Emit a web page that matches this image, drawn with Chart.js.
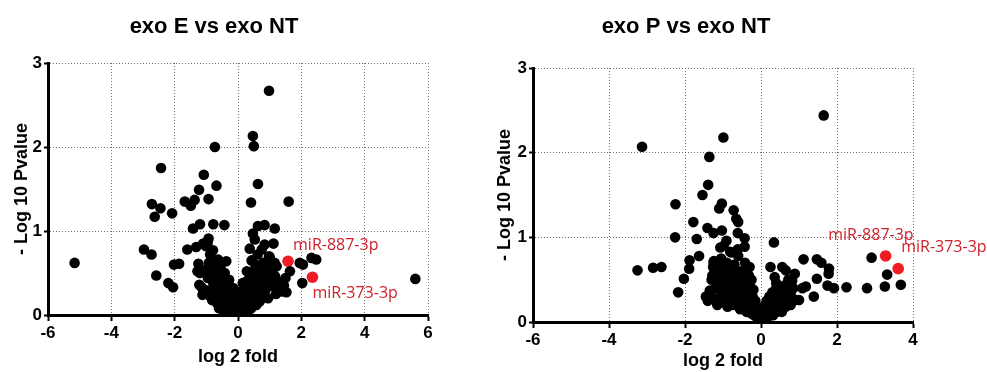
<!DOCTYPE html>
<html>
<head>
<meta charset="utf-8">
<script src="https://cdn.jsdelivr.net/npm/chart.js@4"></script>
<style>
  html, body { margin: 0; padding: 0; background: #fff; }
  .box { position: absolute; top: 0; height: 372px; }
  #boxE { left: 0; width: 476px; }
  #boxP { left: 459px; width: 528px; }
</style>
</head>
<body>
<div class="box" id="boxE"><canvas id="chartE" width="476" height="372"></canvas></div>
<div class="box" id="boxP"><canvas id="chartP" width="528" height="372"></canvas></div>
<script>
// exo E vs exo NT : [log2 fold, -log10 p]
const ePoints = [
  [0.98, 2.67], [0.47, 2.13], [0.5, 2.01], [-0.73, 2.0], [-2.43, 1.75], [-1.08, 1.67], [-0.68, 1.54], [0.63, 1.56],
  [-1.23, 1.49], [-0.93, 1.38], [-1.68, 1.35], [-1.49, 1.30], [-1.37, 1.37], [-2.72, 1.32], [-2.45, 1.27], [-2.63, 1.17],
  [-2.08, 1.21], [0.41, 1.34], [1.6, 1.35], [-1.42, 1.03], [-1.2, 1.08], [-0.78, 1.08], [-0.43, 1.07], [0.63, 1.06],
  [0.84, 1.07], [1.16, 1.03], [0.47, 0.97], [0.53, 0.9], [-0.93, 0.91], [-1.1, 0.85], [-1.32, 0.81], [-1.6, 0.78],
  [-0.79, 0.77], [-2.97, 0.78], [-2.73, 0.72], [-5.16, 0.62], [-2.02, 0.6], [-1.86, 0.61], [-2.58, 0.47], [-2.2, 0.38],
  [-2.05, 0.33], [5.6, 0.43], [1.95, 0.62], [2.32, 0.68], [2.47, 0.66], [2.05, 0.6], [2.03, 0.38], [1.64, 0.52],
  [1.5, 0.44], [1.32, 0.3], [1.53, 0.27],
  [-1.25, 0.61], [-1.2, 0.5], [-1.28, 0.52], [-1.15, 0.33], [-1.12, 0.24], [-1.22, 0.36], [-1.05, 0.3],
  [-1.0, 0.54], [-0.95, 0.44], [-0.89, 0.23], [-0.83, 0.42], [-0.85, 0.3], [-0.92, 0.62], [-0.8, 0.55], [-0.88, 0.72],
  [-1.02, 0.82], [-0.96, 0.86], [-0.75, 0.25], [-0.7, 0.35], [-0.72, 0.5], [-0.68, 0.15], [-0.63, 0.66], [-0.65, 0.45],
  [-0.6, 0.28], [-0.62, 0.18], [-0.7, 0.6], [-0.55, 0.58], [-0.5, 0.4], [-0.52, 0.22], [-0.45, 0.32], [-0.48, 0.12],
  [-0.42, 0.5], [-0.37, 0.64], [-0.4, 0.2], [-0.55, 0.1], [-0.46, 0.05], [-0.35, 0.35], [-0.3, 0.25], [-0.32, 0.1],
  [-0.28, 0.42], [-0.25, 0.15], [-0.22, 0.3], [-0.2, 0.05], [-0.35, 0.05], [-0.3, 0.18], [-0.18, 0.2], [-0.15, 0.1],
  [-0.12, 0.03], [-0.1, 0.15], [-0.08, 0.07], [-0.05, 0.02], [-0.03, 0.1], [-0.15, 0.32], [-0.1, 0.25],
  [-0.6, 0.08], [-0.42, 0.28], [-0.25, 0.08], [-0.15, 0.05], [-0.05, 0.2], [-0.78, 0.38], [-0.58, 0.38], [-0.82, 0.18],
  [0, 0.01], [0.03, 0.05], [0.06, 0.12], [0.1, 0.03], [0.12, 0.2], [0.15, 0.08], [0.18, 0.15], [0.08, 0.28], [0.2, 0.3],
  [0.22, 0.05], [0.25, 0.18], [0.28, 0.52], [0.3, 0.1], [0.32, 0.35], [0.35, 0.25], [0.38, 0.45], [0.37, 0.79],
  [0.4, 0.15], [0.27, 0.4], [0.43, 0.65], [0.45, 0.3], [0.48, 0.52], [0.5, 0.2], [0.52, 0.4], [0.55, 0.6], [0.58, 0.12],
  [0.6, 0.33], [0.42, 0.08], [0.62, 0.72], [0.65, 0.45], [0.68, 0.16], [0.7, 0.55], [0.72, 0.28], [0.75, 0.78],
  [0.78, 0.4], [0.8, 0.62], [0.84, 0.84], [0.87, 0.3], [0.9, 0.58], [0.92, 0.45], [0.95, 0.2], [0.98, 0.7], [1.0, 0.69],
  [1.05, 0.35], [1.08, 0.52], [1.12, 0.85], [1.16, 0.62], [1.17, 0.46], [1.2, 0.25], [1.25, 0.4], [1.3, 0.3],
  [1.22, 0.58], [1.4, 0.28], [1.45, 0.35],
  [0.15, 0.38], [0.05, 0.2], [0.3, 0.02], [0.55, 0.28], [0.62, 0.52], [0.85, 0.5], [1.02, 0.45], [0.75, 0.2]
];
const eHighlight = [[1.58, 0.64], [2.35, 0.45]];
const eHighlightNames = ["miR-887-3p", "miR-373-3p"];

// exo P vs exo NT
const pPoints = [
  [1.65, 2.44], [-3.13, 2.07], [-0.99, 2.18], [-1.36, 1.95], [-1.39, 1.62], [-1.54, 1.5], [-2.25, 1.39], [-1.03, 1.40],
  [-1.1, 1.34], [-0.72, 1.32], [-0.65, 1.22], [-0.6, 1.18], [-1.78, 1.18], [-2.26, 1.0], [-1.69, 0.98], [-1.41, 1.11],
  [-1.25, 1.05], [-1.03, 1.08], [-0.91, 0.96], [-0.61, 1.05], [-0.43, 0.99], [-1.07, 0.88], [-0.81, 0.83], [-0.61, 0.86],
  [-0.43, 0.89], [-1.63, 0.78], [-1.88, 0.73], [-1.89, 0.63], [-2.03, 0.51], [-2.18, 0.35], [-3.25, 0.61], [-2.84, 0.64],
  [-2.62, 0.65], [0.34, 0.94], [2.91, 0.76], [3.32, 0.56], [3.26, 0.42], [3.68, 0.44], [2.79, 0.40], [2.25, 0.41],
  [1.92, 0.4], [1.75, 0.43], [1.79, 0.63], [1.78, 0.57], [1.47, 0.74], [1.59, 0.7], [1.12, 0.74], [1.47, 0.51],
  [1.39, 0.3], [1.0, 0.26], [1.09, 0.4], [1.18, 0.42], [0.89, 0.57], [0.82, 0.49], [0.56, 0.65], [0.65, 0.61],
  [0.25, 0.65], [0.36, 0.53], [0.4, 0.46], [-1.26, 0.53], [-1.35, 0.37], [-1.37, 0.29], [-1.16, 0.23], [-0.91, 0.21],
  [-1.26, 0.65], [-1.24, 0.72],
  [-1.45, 0.3], [-1.4, 0.25], [-1.3, 0.5], [-1.28, 0.55], [-1.25, 0.7], [-1.22, 0.6], [-1.2, 0.4], [-1.18, 0.28],
  [-1.15, 0.2], [-1.1, 0.45], [-1.08, 0.65], [-1.05, 0.75], [-1.02, 0.35], [-1.0, 0.55], [-0.98, 0.9], [-0.95, 0.25],
  [-0.92, 0.5], [-0.9, 0.7], [-0.88, 0.18], [-0.85, 0.4], [-0.82, 0.62], [-0.8, 0.3], [-0.78, 0.82], [-0.75, 0.48],
  [-0.72, 0.2], [-0.7, 0.68], [-0.68, 0.35], [-0.65, 0.55], [-0.62, 0.25], [-0.6, 0.78], [-0.58, 0.42], [-0.55, 0.15],
  [-0.52, 0.6], [-0.5, 0.32], [-0.48, 0.48], [-0.45, 0.22], [-0.42, 0.7], [-0.4, 0.4], [-0.38, 0.12], [-0.35, 0.3],
  [-0.32, 0.55], [-0.3, 0.2], [-0.28, 0.42], [-0.25, 0.1], [-0.22, 0.3], [-0.2, 0.18], [-0.18, 0.08], [-0.15, 0.25],
  [-0.12, 0.12], [-0.1, 0.05], [-0.08, 0.16], [-0.05, 0.03], [-0.3, 0.65], [-0.25, 0.5], [-0.2, 0.38],
  [-1.12, 0.55], [-0.98, 0.42], [-0.86, 0.52], [-0.74, 0.6], [-0.66, 0.44], [-0.55, 0.3], [-0.45, 0.58], [-0.95, 0.62],
  [0, 0.01], [0.03, 0.08], [0.05, 0.15], [0.08, 0.04], [0.1, 0.2], [0.12, 0.1], [0.15, 0.25], [0.18, 0.06], [0.2, 0.15],
  [0.22, 0.3], [0.25, 0.12], [0.28, 0.22], [0.3, 0.35], [0.32, 0.08], [0.35, 0.18], [0.38, 0.28], [0.4, 0.4],
  [0.42, 0.12], [0.45, 0.22], [0.48, 0.35], [0.5, 0.3], [0.52, 0.18], [0.55, 0.42], [0.58, 0.26], [0.6, 0.38],
  [0.62, 0.2], [0.65, 0.32], [0.68, 0.45], [0.7, 0.25], [0.75, 0.36], [0.78, 0.2], [0.8, 0.3], [0.85, 0.4], [0.9, 0.26],
  [0.72, 0.5], [0.15, 0.05], [0.35, 0.3], [0.55, 0.12], [0.45, 0.32], [0.65, 0.18]
];
const pHighlight = [[3.28, 0.78], [3.61, 0.63]];
const pHighlightNames = ["miR-887-3p", "miR-373-3p"];

const yTicks = [0, 1, 2, 3];

const AXIS_FONT = "'Liberation Sans', Arial, sans-serif";

function toXY(list) {
  return list.map(p => ({ x: p[0], y: p[1] }));
}

// draws the red miRNA names next to their points; offsets are [dx, dy, align]
function labelPlugin(points, names, offsets) {
  return {
    id: "mirLabels",
    afterDatasetsDraw(chart) {
      const ctx = chart.ctx;
      const xs = chart.scales.x, ys = chart.scales.y;
      ctx.save();
      ctx.fillStyle = "#d0202a";
      ctx.font = "16px 'Open Sans', 'Noto Sans', sans-serif";
      ctx.textBaseline = "middle";
      points.forEach((p, i) => {
        const o = offsets[i];
        ctx.textAlign = o[2];
        ctx.fillText(names[i], xs.getPixelForValue(p[0]) + o[0], ys.getPixelForValue(p[1]) + o[1]);
      });
      ctx.restore();
    }
  };
}

function makeChart(id, cfg) {
  return new Chart(document.getElementById(id), {
    type: "scatter",
    data: {
      datasets: [
        { data: toXY(cfg.points), backgroundColor: "#000", borderWidth: 0, pointRadius: 5.3, pointHoverRadius: 5.3 },
        { data: toXY(cfg.highlight), backgroundColor: "#ee1c24", borderWidth: 0, pointRadius: 5.8, pointHoverRadius: 5.8 }
      ]
    },
    options: {
      responsive: false,
      animation: false,
      events: [],
      layout: { padding: { left: 0, right: cfg.padRight, top: 0, bottom: 0 } },
      plugins: {
        legend: { display: false },
        tooltip: { enabled: false },
        title: {
          display: true,
          text: cfg.title,
          color: "#000",
          font: { family: AXIS_FONT, size: 22, weight: "bold" },
          padding: { top: 14, bottom: cfg.titleGap }
        }
      },
      scales: {
        x: {
          type: "linear",
          min: cfg.xMin,
          max: cfg.xMax,
          afterFit(scale) { scale.height = cfg.xAxisHeight; },
          ticks: { stepSize: 2, color: "#000", padding: 2, font: { family: AXIS_FONT, size: 17, weight: "bold" } },
          grid: { color: "#707070", lineWidth: 1, tickColor: "#000", tickWidth: 2, tickLength: 6 },
          border: { color: "#000", width: 3, dash: [1, 2] },
          title: {
            display: true, text: "log 2 fold", color: "#000",
            font: { family: AXIS_FONT, size: 18, weight: "bold" },
            padding: { top: 0, bottom: cfg.xTitlePad }
          }
        },
        y: {
          type: "linear",
          min: 0,
          max: 3,
          afterFit(scale) { scale.width = cfg.yAxisWidth; },
          afterBuildTicks(scale) { scale.ticks = yTicks.map(v => ({ value: v })); },
          ticks: { color: "#000", padding: 2, font: { family: AXIS_FONT, size: 17, weight: "bold" } },
          grid: { color: "#707070", lineWidth: 1, tickColor: "#000", tickWidth: 2, tickLength: 4 },
          border: { color: "#000", width: 3, dash: [1, 2] },
          title: {
            display: true, text: "- Log 10 Pvalue", color: "#000",
            font: { family: AXIS_FONT, size: 18, weight: "bold" },
            padding: { top: cfg.yTitlePad, bottom: 0 }
          }
        }
      }
    },
    plugins: [labelPlugin(cfg.highlight, cfg.names, cfg.labelOffsets)]
  });
}

makeChart("chartE", {
  title: "exo E vs exo NT",
  points: ePoints, highlight: eHighlight, names: eHighlightNames,
  xMin: -6, xMax: 6,
  padRight: 48, titleGap: 22.6, xAxisHeight: 57, yAxisWidth: 48,
  xTitlePad: 4, yTitlePad: 11,
  labelOffsets: [[5, -16, "left"], [0, 16, "left"]]
});

makeChart("chartP", {
  title: "exo P vs exo NT",
  points: pPoints, highlight: pHighlight, names: pHighlightNames,
  xMin: -6, xMax: 4,
  padRight: 74, titleGap: 27.6, xAxisHeight: 50, yAxisWidth: 74,
  xTitlePad: 0, yTitlePad: 35,
  labelOffsets: [[28, -21, "right"], [3, -21, "left"]]
});
</script>
</body>
</html>
